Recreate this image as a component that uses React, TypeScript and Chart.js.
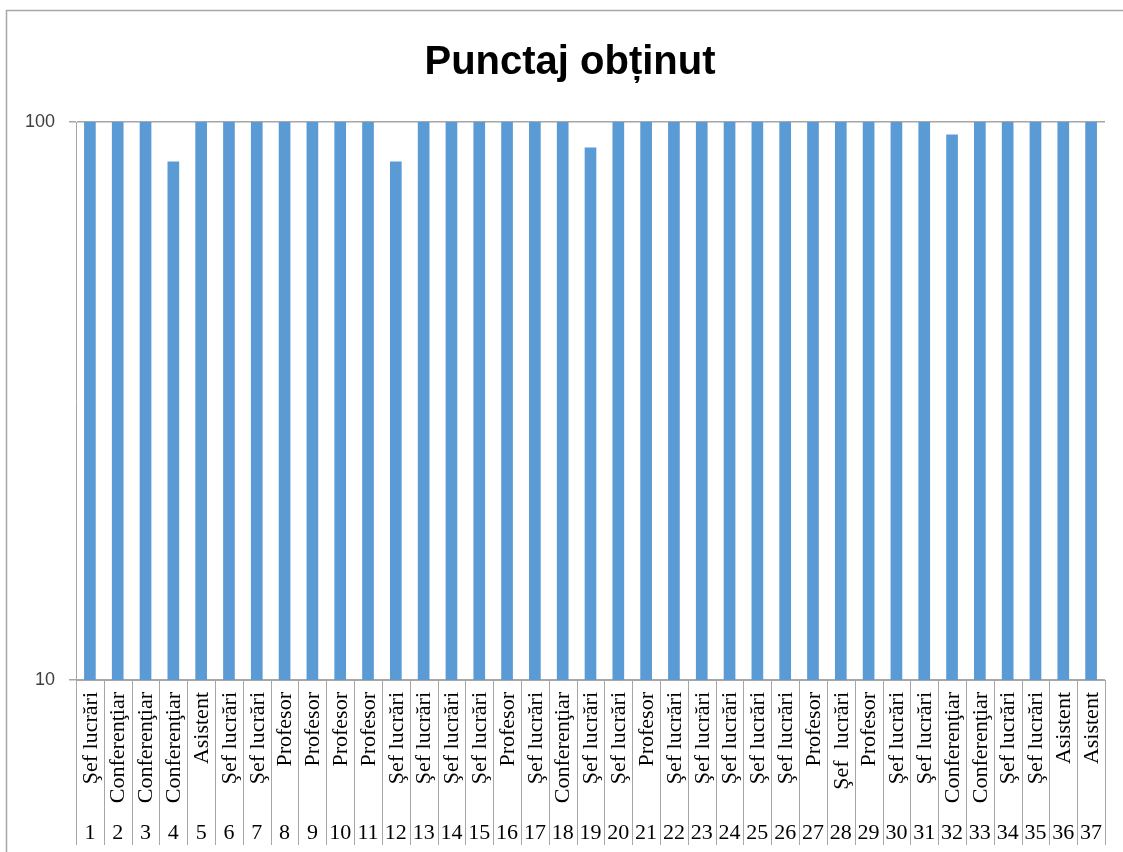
import React, { useEffect, useRef } from "react";
import { Chart, registerables } from "chart.js";

Chart.register(...registerables);

const chartTitle = "Punctaj obținut";
const caseNumbers = [
  "1", "2", "3", "4", "5", "6", "7", "8", "9", "10", "11", "12", "13", "14", "15", "16", "17", "18", "19",
  "20", "21", "22", "23", "24", "25", "26", "27", "28", "29", "30", "31", "32", "33", "34", "35", "36", "37",
];
const roles = [
  "Şef lucrări", "Conferenţiar", "Conferenţiar", "Conferenţiar", "Asistent", "Şef lucrări", "Şef lucrări",
  "Profesor", "Profesor", "Profesor", "Profesor", "Şef lucrări", "Şef lucrări", "Şef lucrări", "Şef lucrări",
  "Profesor", "Şef lucrări", "Conferenţiar", "Şef lucrări", "Şef lucrări", "Profesor", "Şef lucrări",
  "Şef lucrări", "Şef lucrări", "Şef lucrări", "Şef lucrări", "Profesor", "Şef  lucrări", "Profesor",
  "Şef lucrări", "Şef lucrări", "Conferenţiar", "Conferenţiar", "Şef lucrări", "Şef lucrări", "Asistent", "Asistent",
];
const scores = [
  100, 100, 100, 85, 100, 100, 100, 100, 100, 100, 100, 85, 100, 100, 100, 100, 100, 100, 90,
  100, 100, 100, 100, 100, 100, 100, 100, 100, 100, 100, 100, 95, 100, 100, 100, 100, 100,
];
const yTicks = [10, 100];

const W = 1123;
const H = 852;

const decorPlugin = {
  id: "decor",
  afterDraw(chart: any) {
    const { ctx, chartArea } = chart;
    const x = chart.scales.x;
    ctx.save();
    // outer frame
    ctx.strokeStyle = "#a6a6a6";
    ctx.lineWidth = 1.5;
    ctx.beginPath();
    ctx.moveTo(6.5, H);
    ctx.lineTo(6.5, 10.5);
    ctx.lineTo(W, 10.5);
    ctx.stroke();

    // title
    ctx.fillStyle = "#000";
    ctx.font = "bold 40px 'Liberation Sans'";
    ctx.textAlign = "center";
    ctx.textBaseline = "alphabetic";
    ctx.fillText(chartTitle, 570, 74);

    // category separators
    const n = roles.length;
    const step = (x.right - x.left) / n;
    ctx.strokeStyle = "#a6a6a6";
    ctx.lineWidth = 1;
    for (let i = 0; i <= n; i++) {
      const px = Math.round(x.getPixelForValue(0) - step / 2 + i * step) + 0.5;
      ctx.beginPath();
      ctx.moveTo(px, chartArea.bottom);
      ctx.lineTo(px, 845);
      ctx.stroke();
    }

    // labels
    ctx.fillStyle = "#000";
    ctx.font = "22px 'Liberation Serif'";
    for (let i = 0; i < n; i++) {
      const cx = x.getPixelForValue(i);
      ctx.save();
      ctx.translate(cx, 692);
      ctx.rotate(-Math.PI / 2);
      ctx.textAlign = "right";
      ctx.textBaseline = "middle";
      ctx.fillText(roles[i], 0, 1);
      ctx.restore();
      ctx.textAlign = "center";
      ctx.textBaseline = "middle";
      ctx.fillText(caseNumbers[i], cx, 833);
    }
    ctx.restore();
  },
};

export default function App() {
  const ref = useRef<HTMLCanvasElement>(null);
  useEffect(() => {
    const canvas = ref.current;
    if (!canvas) return;
    const chart = new Chart(canvas, {
      type: "bar",
      data: {
        labels: caseNumbers,
        datasets: [
          {
            label: chartTitle,
            data: scores,
            backgroundColor: "#5b9bd5",
            borderWidth: 0,
            categoryPercentage: 1,
            barPercentage: 0.42,
          },
        ],
      },
      options: {
        responsive: false,
        animation: false,
        layout: { padding: { top: 122, left: 0, right: 18, bottom: 172 } },
        plugins: {
          legend: { display: false },
          title: { display: false },
          tooltip: { enabled: false },
        },
        scales: {
          x: {
            type: "category",
            offset: true,
            ticks: { display: false },
            grid: { display: false, drawTicks: false },
            border: { display: true, color: "#a6a6a6", width: 1 },
          },
          y: {
            type: "logarithmic",
            min: 10,
            max: 100,
            afterBuildTicks: (scale: any) => {
              scale.ticks = yTicks.map((v) => ({ value: v }));
            },
            afterFit: (scale: any) => {
              scale.width = 76;
            },
            ticks: {
              callback: (v: any) => String(v),
              font: { family: "'Liberation Sans'", size: 18 },
              color: "#404040",
              padding: 14,
            },
            grid: { color: "#a6a6a6", tickLength: 7, lineWidth: 1.5 },
            border: { display: true, color: "#a6a6a6", width: 1 },
          },
        },
      },
      plugins: [decorPlugin],
    });
    return () => chart.destroy();
  }, []);
  return (
    <div style={{ position: "fixed", left: 0, top: 0, width: W, height: H, background: "#fff" }}>
      <canvas ref={ref} width={W} height={H} style={{ width: W, height: H }} />
    </div>
  );
}
